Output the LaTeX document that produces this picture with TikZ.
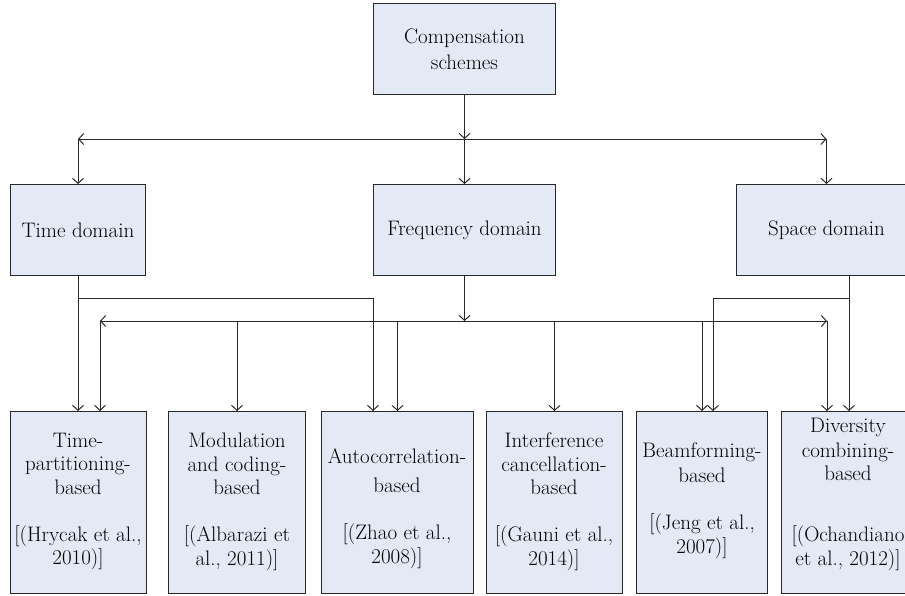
\documentclass[tikz,border=0pt]{standalone}
\usetikzlibrary{arrows.meta}
\definecolor{boxfill}{RGB}{227,233,245}
\definecolor{edgec}{RGB}{40,40,40}
\begin{document}
\begin{tikzpicture}[x=1pt,y=-1pt,
  box/.style={draw=edgec, line width=1pt, fill=boxfill, anchor=north west, inner sep=0pt},
  tbox/.style={box, align=center, font=\fontsize{21}{23.5}\selectfont},
  lbl/.style={align=center, anchor=north, inner sep=0pt, font=\fontsize{21}{23.5}\selectfont},
  barb/.tip={Straight Barb[length=5pt,width=11pt]},
  ln/.style={draw=edgec, line width=1pt},
  arr/.style={ln, -barb},
  dbl/.style={ln, barb-barb}]
\useasboundingbox (0,0) rectangle (905,595);

% top and second row
\node[tbox, minimum width=182pt, minimum height=91pt] (cs) at (373,3) {Compensation\\[2pt]schemes};
\node[tbox, minimum width=135pt, minimum height=91pt] (td) at (10,184) {Time domain};
\node[tbox, minimum width=182pt, minimum height=91pt] (fd) at (373,184) {Frequency domain};
\node[tbox, minimum width=180pt, minimum height=91pt] (sd) at (736,184) {Space domain};

% bottom boxes
\node[box, minimum width=136pt, minimum height=182pt] (b1) at (10,411) {};
\node[box, minimum width=137pt, minimum height=182pt] (b2) at (168,411) {};
\node[box, minimum width=152pt, minimum height=182pt] (b3) at (321,411) {};
\node[box, minimum width=136pt, minimum height=182pt] (b4) at (486,411) {};
\node[box, minimum width=131pt, minimum height=182pt] (b5) at (636,411) {};
\node[box, minimum width=136pt, minimum height=182pt] (b6) at (781,411) {};

\node[lbl] (t1) at (78,433) {Time-\\partitioning-\\based\\[23.5pt]{[}(Hrycak et al.,\\2010)]};
\node[lbl] (t2) at (237,433) {Modulation\\and coding-\\based\\[23.5pt]{[}(Albarazi et\\al., 2011)]};
\node[lbl] (t3) at (397,448) {Autocorrelation-\\[6pt]based\\[23.5pt]{[}(Zhao et al.,\\2008)]};
\node[lbl] (t4) at (554,433) {Interference\\cancellation-\\based\\[23.5pt]{[}(Gauni et al.,\\2014)]};
\node[lbl] (t5) at (702,443) {Beamforming-\\[1pt]based\\[23.5pt]{[}(Jeng et al.,\\[1pt]2007)]};
\node[lbl] (t6) at (848,418) {Diversity\\[1pt]combining-\\based\\[37pt]{[}(Ochandiano\\[1pt]et al., 2012)]};

% top connectors
\coordinate (j1) at (cs.south |- 0,139);
\coordinate (jl) at (td.north |- j1);
\coordinate (jr) at (sd.north |- j1);
\draw[arr] (cs.south) -- (j1);
\draw[dbl] (jl) -- (jr);
\draw[arr] (jl) -- (td.north);
\draw[arr] (j1) -- (fd.north);
\draw[arr] (jr) -- (sd.north);

% frequency domain hub
\coordinate (k1) at (fd.south |- 0,321);
\coordinate (kl) at (100,321);
\coordinate (kr) at (827,321);
\draw[arr] (fd.south) -- (k1);
\draw[dbl] (kl) -- (kr);
\draw[arr] (kl) -- (kl |- b1.north);
\draw[arr] (b2.north |- k1) -- (b2.north);
\draw[arr] (b3.north |- k1) -- (b3.north);
\draw[arr] (b4.north |- k1) -- (b4.north);
\draw[arr] (b5.north |- k1) -- (b5.north);
\draw[arr] (kr) -- (kr |- b6.north);

% time domain links
\coordinate (m1) at (td.south |- 0,298);
\coordinate (a3) at (373,411);
\draw[arr] (td.south) -- (td.south |- b1.north);
\draw[arr] (m1) -| (a3);

% space domain links
\coordinate (s0) at (849,275);
\coordinate (a5) at (713,411);
\draw[arr] (s0) -- (s0 |- b6.north);
\draw[arr] (s0 |- m1) -| (a5);
\end{tikzpicture}
\end{document}
